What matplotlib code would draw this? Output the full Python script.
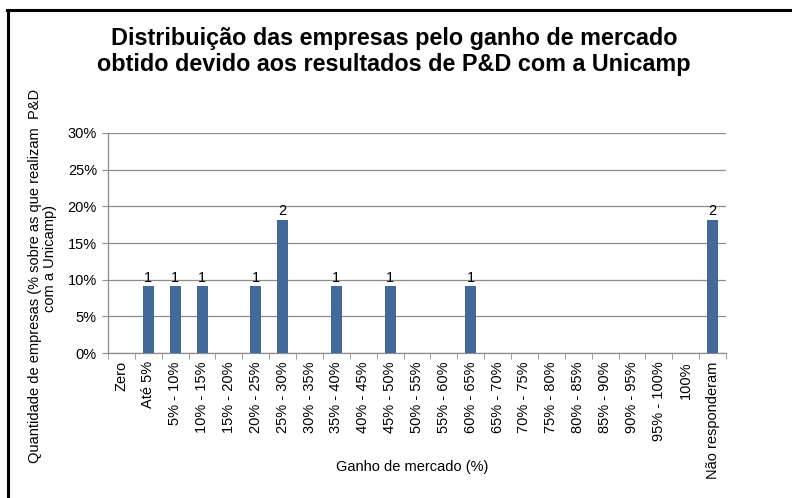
import matplotlib
matplotlib.use("Agg")
import matplotlib.pyplot as plt
from matplotlib.lines import Line2D
from matplotlib.ticker import FuncFormatter, FixedLocator

plt.rcParams['font.family'] = ['Liberation Sans', 'DejaVu Sans']

categories = ["Zero", "Até 5%", "5% - 10%", "10% - 15%", "15% - 20%", "20% - 25%",
              "25% - 30%", "30% - 35%", "35% - 40%", "40% - 45%", "45% - 50%",
              "50% - 55%", "55% - 60%", "60% - 65%", "65% - 70%", "70% - 75%",
              "75% - 80%", "80% - 85%", "85% - 90%", "90% - 95%", "95% - 100%",
              "100%", "Não responderam"]
counts = [0, 1, 1, 1, 0, 1, 2, 0, 1, 0, 1, 0, 0, 1, 0, 0, 0, 0, 0, 0, 0, 0, 2]
percents = [0, 9.09, 9.09, 9.09, 0, 9.09, 18.18, 0, 9.09, 0, 9.09, 0, 0, 9.09,
            0, 0, 0, 0, 0, 0, 0, 0, 18.18]
yticks = [0, 5, 10, 15, 20, 25, 30]

W, H = 792, 498
fig = plt.figure(figsize=(W / 100, H / 100), dpi=100)
ax = fig.add_axes([108 / W, 1 - 353 / H, (726 - 108) / W, (353 - 133) / H])

bar_color = '#416a9b'
x = list(range(len(categories)))
bars = ax.bar(x, percents, width=0.41, color=bar_color, zorder=3)
for xi, p, c in zip(x, percents, counts):
    if c > 0:
        ax.text(xi, p + 0.2, str(c), ha='center', va='bottom', fontsize=10.5, zorder=4)

ax.set_xlim(-0.5, len(categories) - 0.5)
ax.set_ylim(0, 30)
ax.yaxis.set_major_locator(FixedLocator(yticks))
ax.yaxis.set_major_formatter(FuncFormatter(lambda v, pos: f"{int(v)}%"))
ax.grid(axis='y', color='#8c8c8c', linewidth=0.9, zorder=0)
ax.set_axisbelow(True)

ax.set_xticks(x)
ax.set_xticklabels(categories, rotation=90, ha='center', va='top', fontsize=10.5)
ax.set_xticks([i - 0.5 for i in range(len(categories) + 1)], minor=True)
ax.tick_params(axis='x', which='major', length=0, pad=6)
ax.tick_params(axis='x', which='minor', length=4, color='#8c8c8c', direction='out')
ax.tick_params(axis='y', length=4, color='#8c8c8c', labelsize=10.5, pad=4)

for s in ['top', 'right']:
    ax.spines[s].set_visible(False)
for s in ['left', 'bottom']:
    ax.spines[s].set_color('#8c8c8c')
    ax.spines[s].set_linewidth(0.9)

fig.text(394 / W, 1 - 38 / H, "Distribuição das empresas pelo ganho de mercado",
         ha='center', va='center', fontsize=16.8, fontweight='bold')
fig.text(394 / W, 1 - 64 / H, "obtido devido aos resultados de P&D com a Unicamp",
         ha='center', va='center', fontsize=16.8, fontweight='bold')

fig.text(412 / W, 1 - 467 / H, "Ganho de mercado (%)", ha='center', va='center', fontsize=10.5)
fig.text(35 / W, 1 - 276 / H, "Quantidade de empresas (% sobre as que realizam  P&D",
         rotation=90, ha='center', va='center', fontsize=10.5)
fig.text(50 / W, 1 - 258 / H, "com a Unicamp)",
         rotation=90, ha='center', va='center', fontsize=10.5)

# outer frame
fig.add_artist(Line2D([7 / W, 1.0], [1 - 10.5 / H, 1 - 10.5 / H], color='black',
                      linewidth=2.2, transform=fig.transFigure))
fig.add_artist(Line2D([8 / W, 8 / W], [0, 1 - 10.5 / H], color='black',
                      linewidth=2.2, transform=fig.transFigure))

fig.savefig("out.png", dpi=100)
